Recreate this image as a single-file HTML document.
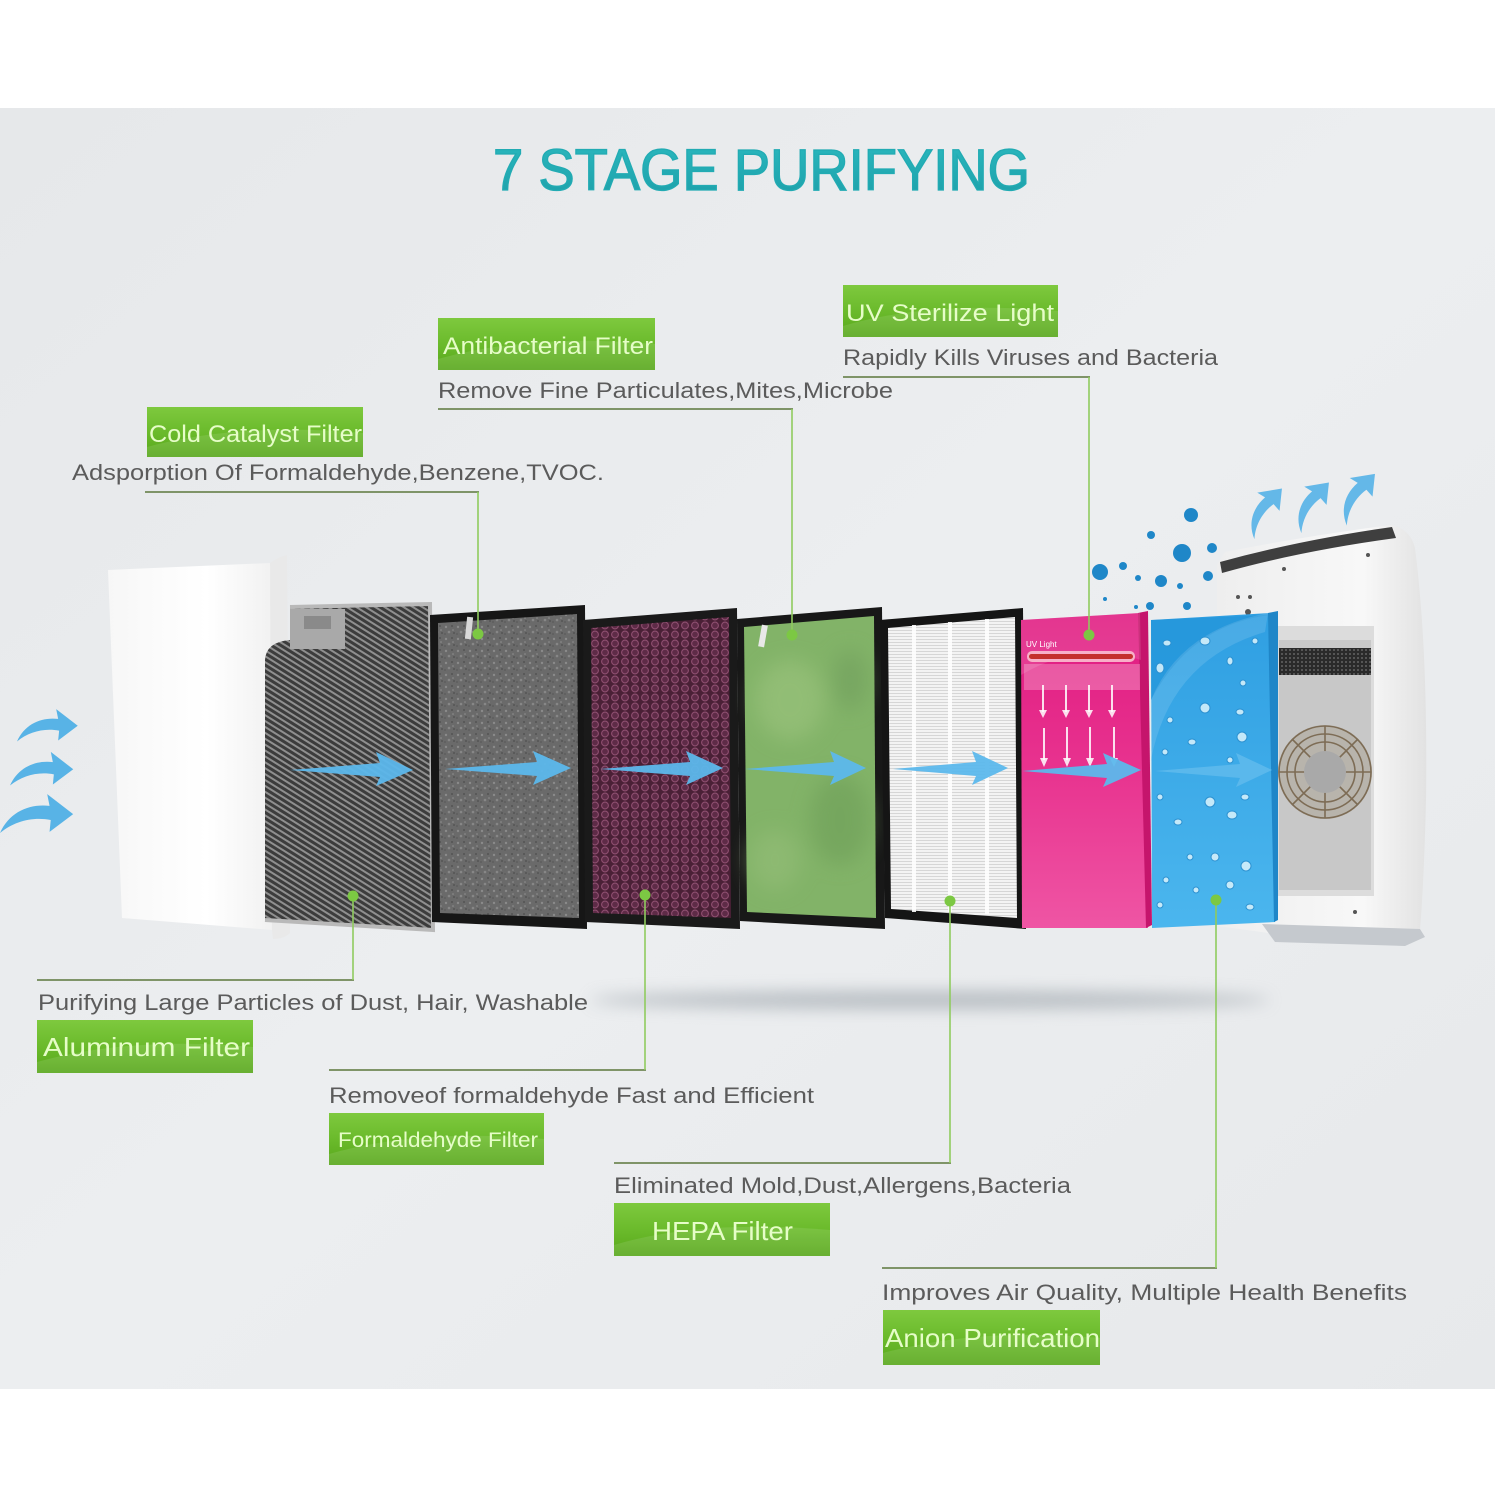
<!DOCTYPE html>
<html><head><meta charset="utf-8"><style>html,body{margin:0;padding:0;background:#fff}svg{display:block}</style></head>
<body>
<svg width="1500" height="1500" viewBox="0 0 1500 1500" xmlns="http://www.w3.org/2000/svg" font-family="'Liberation Sans', sans-serif">
<defs>
  <linearGradient id="bg" x1="0" y1="0" x2="1" y2="1">
    <stop offset="0" stop-color="#e6e8ea"/><stop offset="0.5" stop-color="#eceef0"/><stop offset="1" stop-color="#e7e9eb"/>
  </linearGradient>
  <linearGradient id="gbox" x1="0" y1="0" x2="0" y2="1">
    <stop offset="0" stop-color="#7ec93e"/><stop offset="0.55" stop-color="#69b92a"/><stop offset="1" stop-color="#58a71b"/>
  </linearGradient>
  <linearGradient id="title" x1="0" y1="0" x2="0" y2="1">
    <stop offset="0" stop-color="#2bb9bf"/><stop offset="1" stop-color="#1c9ea8"/>
  </linearGradient>
  <linearGradient id="cover" x1="0" y1="0" x2="1" y2="0">
    <stop offset="0" stop-color="#f7f7f7"/><stop offset="0.6" stop-color="#ffffff"/><stop offset="1" stop-color="#f1f1f1"/>
  </linearGradient>
  <linearGradient id="pink" x1="0" y1="0" x2="0" y2="1">
    <stop offset="0" stop-color="#e01a80"/><stop offset="0.5" stop-color="#e8338f"/><stop offset="1" stop-color="#ef55a4"/>
  </linearGradient>
  <linearGradient id="blue" x1="0" y1="0" x2="0" y2="1">
    <stop offset="0" stop-color="#2f9fe2"/><stop offset="1" stop-color="#4bb6ee"/>
  </linearGradient>
  <linearGradient id="body" x1="0" y1="0" x2="1" y2="0">
    <stop offset="0" stop-color="#eeeeee"/><stop offset="0.7" stop-color="#f8f8f8"/><stop offset="1" stop-color="#e2e2e2"/>
  </linearGradient>
  <pattern id="mesh" width="5" height="5" patternUnits="userSpaceOnUse" patternTransform="rotate(32)">
    <rect width="5" height="5" fill="#3c3c3c"/><rect width="5" height="2" fill="#8f8f8f"/>
  </pattern>
  <pattern id="grain" width="12" height="12" patternUnits="userSpaceOnUse">
    <rect width="12" height="12" fill="#6a6a6a"/>
    <circle cx="2" cy="3" r="1.2" fill="#8a8a8a"/><circle cx="8" cy="2" r="1" fill="#535353"/>
    <circle cx="5" cy="8" r="1.3" fill="#878787"/><circle cx="10" cy="9" r="1" fill="#555"/>
    <circle cx="1" cy="10" r="0.9" fill="#5a5a5a"/><circle cx="9" cy="6" r="0.8" fill="#909090"/>
  </pattern>
  <pattern id="hex" width="10" height="9" patternUnits="userSpaceOnUse">
    <rect width="10" height="9" fill="#4a2036"/>
    <circle cx="5" cy="4.5" r="3.4" fill="#5e2b47" stroke="#8e4e70" stroke-width="1.1"/>
  </pattern>
  <pattern id="hepa" width="6" height="3" patternUnits="userSpaceOnUse">
    <rect width="6" height="3" fill="#f3f3f3"/><rect width="6" height="1" fill="#d6d6d6"/>
  </pattern>
  <pattern id="vent" width="4" height="4" patternUnits="userSpaceOnUse">
    <rect width="4" height="4" fill="#2a2a2a"/><rect x="1" y="1" width="2" height="2" fill="#555"/>
  </pattern>
  <filter id="blur8" x="-20%" y="-200%" width="140%" height="500%"><feGaussianBlur stdDeviation="8"/></filter>
  <filter id="blur10" x="-30%" y="-30%" width="160%" height="160%"><feGaussianBlur stdDeviation="10"/></filter>
  <path id="carrow" d="M0,28 C8,10 25,3 42,5 L40,-5 L62,12 L42,27 L43,17 C28,14 12,18 0,28 Z"/>
</defs>

<!-- background -->
<rect x="0" y="0" width="1500" height="1500" fill="#ffffff"/>
<rect x="0" y="108" width="1495" height="1281" fill="url(#bg)"/>

<!-- title -->
<text x="493" y="190" font-size="58" fill="url(#title)" stroke="#22abb3" stroke-width="1.3" textLength="537" lengthAdjust="spacingAndGlyphs">7 STAGE PURIFYING</text>

<!-- shadow band under filters -->
<ellipse cx="930" cy="1000" rx="340" ry="9" fill="#8e979f" opacity="0.55" filter="url(#blur8)"/>

<!-- left curved arrows -->
<g fill="#58b3e6">
  <use href="#carrow" transform="translate(17,714) scale(0.98)"/>
  <use href="#carrow" transform="translate(10,757) scale(1.02)"/>
  <use href="#carrow" transform="translate(0,800) scale(1.18)"/>
</g>

<!-- white cover -->
<path d="M108,570 L271,563 L273,930 L122,918 Z" fill="url(#cover)"/>
<path d="M270,563 Q280,556 287,555 L290,933 Q284,939 273,939 L272,930 Z" fill="#e9e9e9"/>

<!-- aluminum filter -->
<path d="M265,660 Q266,642 290,640 L290,607 L430,604 L433,930 L265,920 Z" fill="url(#mesh)"/>
<path d="M290,607 L430,604 L433,930 L265,920" fill="none" stroke="#b9b9b9" stroke-width="4"/>
<rect x="290" y="609" width="55" height="40" fill="#a9a9a9"/>
<rect x="304" y="616" width="27" height="13" fill="#8a8a8a"/>

<!-- gray cold catalyst filter -->
<path d="M430,615 L585,605 L587,929 L432,922 Z" fill="#161616"/>
<path d="M438,623 L577,614 L579,918 L440,913 Z" fill="url(#grain)"/>
<rect x="466" y="617" width="6" height="22" fill="#d8d8d8" transform="rotate(6 469 628)"/>

<!-- purple formaldehyde filter -->
<path d="M583,620 L737,608 L740,929 L585,922 Z" fill="#1a1a1a"/>
<path d="M591,628 L729,617 L731,918 L593,913 Z" fill="url(#hex)"/>

<!-- green antibacterial filter -->
<path d="M737,619 L882,607 L885,929 L740,921 Z" fill="#181818"/>
<path d="M744,627 L874,616 L876,918 L747,912 Z" fill="#82b368"/>
<g filter="url(#blur10)" opacity="0.6">
  <ellipse cx="790" cy="700" rx="35" ry="40" fill="#9cc47e"/>
  <ellipse cx="840" cy="820" rx="30" ry="45" fill="#6e9f58"/>
  <ellipse cx="775" cy="860" rx="25" ry="30" fill="#94be78"/>
  <ellipse cx="850" cy="680" rx="18" ry="30" fill="#719f5d"/>
</g>
<rect x="760" y="625" width="6" height="22" fill="#e8e8e8" transform="rotate(10 763 636)"/>

<!-- HEPA filter -->
<path d="M880,620 L1023,608 L1026,929 L885,918 Z" fill="#151515"/>
<path d="M888,628 L1015,617 L1017,918 L891,909 Z" fill="url(#hepa)"/>
<g fill="#ffffff" opacity="0.9">
  <rect x="912" y="625" width="4" height="287"/>
  <rect x="948" y="622" width="4" height="290"/>
  <rect x="985" y="619" width="4" height="295"/>
</g>

<!-- purifier body -->
<path d="M1217,565 L1225,552 Q1300,537 1390,525 Q1410,528 1415,548 Q1428,650 1426,800 Q1424,880 1420,930 L1405,940 L1290,936 L1217,926 Z" fill="url(#body)"/>
<path d="M1220,562 Q1300,540 1392,527 L1396,538 Q1300,551 1222,573 Z" fill="#3f3f3f"/>
<path d="M1262,924 L1420,929 L1425,937 L1405,946 L1275,942 Z" fill="#c5c9ce"/>
<rect x="1272" y="626" width="102" height="270" fill="#dcdcdc"/>
<rect x="1279" y="640" width="92" height="250" fill="#c8c8c8"/>
<rect x="1279" y="648" width="92" height="27" fill="url(#vent)"/>
<circle cx="1325" cy="772" r="47" fill="#b8b4ac"/>
<g fill="none" stroke="#7d6c55" stroke-width="1.6">
  <circle cx="1325" cy="772" r="46"/><circle cx="1325" cy="772" r="38"/><circle cx="1325" cy="772" r="30"/>
  <path d="M1325,726 V818 M1279,772 H1371 M1292,739 L1358,805 M1358,739 L1292,805"/>
</g>
<circle cx="1325" cy="772" r="21" fill="#a9a9a9"/>
<g fill="#555">
  <circle cx="1284" cy="569" r="2"/><circle cx="1238" cy="597" r="2"/><circle cx="1250" cy="597" r="2"/>
  <circle cx="1248" cy="612" r="3"/><circle cx="1368" cy="555" r="2"/><circle cx="1355" cy="912" r="2"/>
</g>

<!-- ion dots -->
<g fill="#1f87c8">
  <circle cx="1191" cy="515" r="7"/><circle cx="1151" cy="535" r="4"/><circle cx="1182" cy="553" r="9"/>
  <circle cx="1212" cy="548" r="5"/><circle cx="1100" cy="572" r="8"/><circle cx="1123" cy="566" r="4"/>
  <circle cx="1161" cy="581" r="6"/><circle cx="1138" cy="578" r="3"/><circle cx="1180" cy="586" r="3"/>
  <circle cx="1208" cy="576" r="5"/><circle cx="1105" cy="599" r="2"/><circle cx="1150" cy="606" r="4"/>
  <circle cx="1187" cy="606" r="4"/><circle cx="1136" cy="607" r="2"/>
</g>

<!-- top curved arrows -->
<g fill="#64b8e8">
  <use href="#carrow" transform="translate(1236,522) rotate(-47) scale(0.9)"/>
  <use href="#carrow" transform="translate(1283,516) rotate(-47) scale(0.9)"/>
  <use href="#carrow" transform="translate(1328,508) rotate(-47) scale(0.92)"/>
</g>

<!-- pink UV panel -->
<path d="M1021,620 L1140,613 L1148,928 L1022,928 Z" fill="url(#pink)"/>
<path d="M1138,613 L1148,611 L1152,925 L1146,928 Z" fill="#c5156c"/>
<path d="M1021,620 L1140,613 L1141,660 Q1080,640 1021,675 Z" fill="#ffffff" opacity="0.12"/>
<rect x="1024" y="664" width="116" height="26" fill="#ffffff" opacity="0.25"/>
<rect x="1027" y="651" width="108" height="11" rx="5" fill="#f7b0c8"/>
<rect x="1029" y="654" width="104" height="5" rx="2.5" fill="#c4302c"/>
<text x="1026" y="647" font-size="8" fill="#ffffff">UV Light</text>
<g stroke="#ffffff" stroke-width="2" fill="#ffffff" opacity="0.85">
  <path d="M1043,685 V712 M1066,685 V712 M1089,685 V712 M1112,685 V712"/>
  <path d="M1044,728 V760 M1067,727 V760 M1090,727 V760 M1114,727 V760"/>
</g>
<g fill="#ffffff" opacity="0.85">
  <path d="M1039,710 L1047,710 L1043,718 Z M1062,710 L1070,710 L1066,718 Z M1085,710 L1093,710 L1089,718 Z M1108,710 L1116,710 L1112,718 Z"/>
  <path d="M1040,758 L1048,758 L1044,767 Z M1063,758 L1071,758 L1067,767 Z M1086,758 L1094,758 L1090,767 Z M1110,758 L1118,758 L1114,767 Z"/>
</g>

<!-- blue anion panel -->
<path d="M1151,620 L1270,613 L1275,922 L1152,928 Z" fill="url(#blue)"/>
<path d="M1268,613 L1278,611 L1278,920 L1274,922 Z" fill="#1f86c8"/>
<path d="M1151,700 Q1190,625 1270,615 L1151,620 Z" fill="#1c8fd6" opacity="0.5"/>
<path d="M1151,760 Q1170,660 1265,632 L1268,613 Q1180,630 1151,700 Z" fill="#ffffff" opacity="0.12"/>
<g fill="#d4f0fb" stroke="#2b8fcf" stroke-width="1" opacity="0.9">
  <ellipse cx="1167" cy="643" rx="4" ry="3"/><ellipse cx="1205" cy="641" rx="5" ry="4"/><ellipse cx="1255" cy="641" rx="3" ry="3"/>
  <ellipse cx="1160" cy="668" rx="4" ry="5"/><ellipse cx="1230" cy="661" rx="3" ry="4"/><ellipse cx="1243" cy="683" rx="3" ry="3"/>
  <ellipse cx="1205" cy="708" rx="5" ry="5"/><ellipse cx="1240" cy="712" rx="4" ry="3"/><ellipse cx="1170" cy="720" rx="3" ry="3"/>
  <ellipse cx="1242" cy="737" rx="5" ry="5"/><ellipse cx="1192" cy="742" rx="4" ry="3"/><ellipse cx="1230" cy="760" rx="3" ry="3"/>
  <ellipse cx="1165" cy="752" rx="3" ry="3"/><ellipse cx="1245" cy="797" rx="4" ry="3"/><ellipse cx="1210" cy="802" rx="5" ry="5"/>
  <ellipse cx="1160" cy="797" rx="3" ry="3"/><ellipse cx="1178" cy="822" rx="4" ry="3"/><ellipse cx="1232" cy="815" rx="5" ry="4"/>
  <ellipse cx="1215" cy="857" rx="4" ry="4"/><ellipse cx="1190" cy="857" rx="3" ry="3"/><ellipse cx="1246" cy="866" rx="5" ry="5"/>
  <ellipse cx="1166" cy="880" rx="3" ry="3"/><ellipse cx="1230" cy="885" rx="4" ry="4"/><ellipse cx="1196" cy="890" rx="3" ry="3"/>
  <ellipse cx="1250" cy="907" rx="4" ry="3"/><ellipse cx="1160" cy="905" rx="3" ry="3"/>
</g>

<!-- flow arrows -->
<g fill="#5cb8ec" opacity="0.95">
  <path d="M290,770 L380,763 L376,752 L413,770 L376,786 L380,777 Z"/>
  <path d="M445,769 L537,762 L533,751 L571,768 L533,785 L537,776 Z"/>
  <path d="M600,769 L690,762 L686,751 L723,768 L686,785 L690,776 Z"/>
  <path d="M745,769 L834,762 L830,751 L866,768 L830,785 L834,776 Z"/>
  <path d="M893,769 L976,762 L972,751 L1008,768 L972,785 L976,776 Z"/>
  <path d="M1022,771 L1107,764 L1103,753 L1141,770 L1103,787 L1107,778 Z"/>
  <path d="M1155,771 L1240,764 L1236,753 L1272,770 L1236,787 L1240,778 Z"/>
</g>

<!-- connector lines -->
<g fill="none" stroke-width="2">
  <g stroke="#7f9468">
    <path d="M843,377 H1090"/><path d="M438,409 H793"/><path d="M145,492 H479"/>
    <path d="M37,980 H354"/><path d="M329,1070 H646"/><path d="M614,1163 H951"/><path d="M882,1268 H1217"/>
  </g>
  <g stroke="#8fcb5e" stroke-width="1.6">
    <path d="M1089,377 V635"/><path d="M792,409 V635"/><path d="M478,492 V634"/>
    <path d="M353,896 V980"/><path d="M645,895 V1070"/><path d="M950,901 V1163"/><path d="M1216,900 V1268"/>
  </g>
</g>
<g fill="#7cc843">
  <circle cx="1089" cy="635" r="5.5"/><circle cx="792" cy="635" r="5.5"/><circle cx="478" cy="634" r="5.5"/>
  <circle cx="353" cy="896" r="5.5"/><circle cx="645" cy="895" r="5.5"/><circle cx="950" cy="901" r="5.5"/><circle cx="1216" cy="900" r="5.5"/>
</g>

<!-- green label boxes -->
<g>
  <rect x="843" y="285" width="215" height="52" fill="url(#gbox)"/>
  <path d="M843,326 Q930,300 1058,311 L1058,337 L843,337 Z" fill="#ffffff" opacity="0.1"/>
  <rect x="438" y="318" width="217" height="52" fill="url(#gbox)"/>
  <path d="M438,359 Q530,333 655,344 L655,370 L438,370 Z" fill="#ffffff" opacity="0.1"/>
  <rect x="147" y="407" width="216" height="50" fill="url(#gbox)"/>
  <path d="M147,447 Q240,422 363,433 L363,457 L147,457 Z" fill="#ffffff" opacity="0.1"/>
  <rect x="37" y="1020" width="216" height="53" fill="url(#gbox)"/>
  <path d="M37,1062 Q130,1036 253,1047 L253,1073 L37,1073 Z" fill="#ffffff" opacity="0.1"/>
  <rect x="329" y="1113" width="215" height="52" fill="url(#gbox)"/>
  <path d="M329,1154 Q420,1128 544,1139 L544,1165 L329,1165 Z" fill="#ffffff" opacity="0.1"/>
  <rect x="614" y="1203" width="216" height="53" fill="url(#gbox)"/>
  <path d="M614,1245 Q700,1219 830,1230 L830,1256 L614,1256 Z" fill="#ffffff" opacity="0.1"/>
  <rect x="883" y="1310" width="217" height="55" fill="url(#gbox)"/>
  <path d="M883,1353 Q980,1327 1100,1338 L1100,1365 L883,1365 Z" fill="#ffffff" opacity="0.1"/>
</g>
<g fill="#e6fdc8" font-size="24">
  <text x="846" y="321" textLength="208" lengthAdjust="spacingAndGlyphs">UV Sterilize Light</text>
  <text x="443" y="354" textLength="210" lengthAdjust="spacingAndGlyphs">Antibacterial Filter</text>
  <text x="149" y="442" textLength="213" lengthAdjust="spacingAndGlyphs">Cold Catalyst Filter</text>
  <text x="43" y="1056" font-size="26" textLength="207" lengthAdjust="spacingAndGlyphs">Aluminum Filter</text>
  <text x="338" y="1147" font-size="21" textLength="200" lengthAdjust="spacingAndGlyphs">Formaldehyde Filter</text>
  <text x="652" y="1240" font-size="26" textLength="141" lengthAdjust="spacingAndGlyphs">HEPA Filter</text>
  <text x="885" y="1347" font-size="26" textLength="215" lengthAdjust="spacingAndGlyphs">Anion Purification</text>
</g>

<!-- descriptions -->
<g fill="#5b5b5b" font-size="22">
  <text x="843" y="365" textLength="375" lengthAdjust="spacingAndGlyphs">Rapidly Kills Viruses and Bacteria</text>
  <text x="438" y="398" textLength="455" lengthAdjust="spacingAndGlyphs">Remove Fine Particulates,Mites,Microbe</text>
  <text x="72" y="480" textLength="532" lengthAdjust="spacingAndGlyphs">Adsporption Of Formaldehyde,Benzene,TVOC.</text>
  <text x="38" y="1010" textLength="550" lengthAdjust="spacingAndGlyphs">Purifying Large Particles of Dust, Hair, Washable</text>
  <text x="329" y="1103" textLength="485" lengthAdjust="spacingAndGlyphs">Removeof formaldehyde Fast and Efficient</text>
  <text x="614" y="1193" textLength="457" lengthAdjust="spacingAndGlyphs">Eliminated Mold,Dust,Allergens,Bacteria</text>
  <text x="882" y="1300" textLength="525" lengthAdjust="spacingAndGlyphs">Improves Air Quality, Multiple Health Benefits</text>
</g>
</svg>
</body></html>
